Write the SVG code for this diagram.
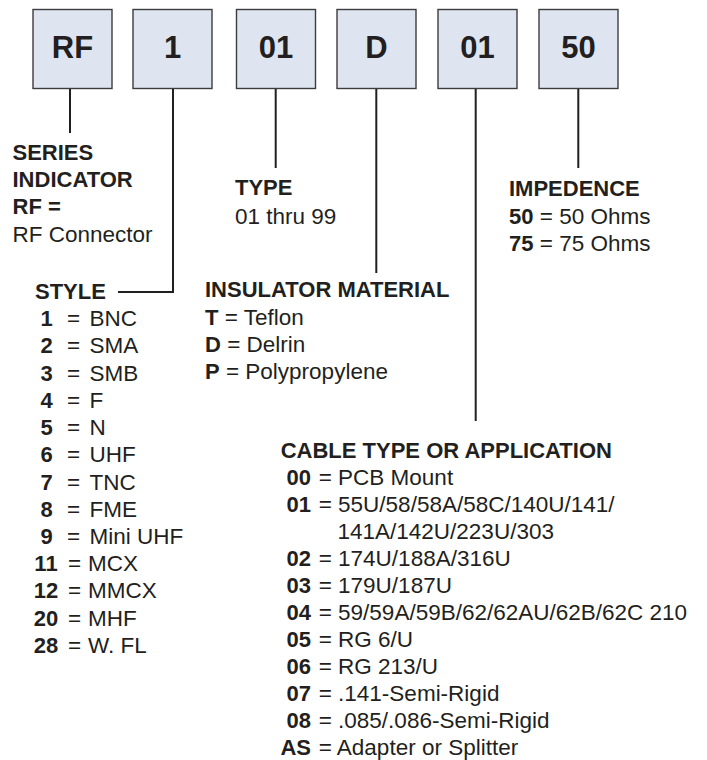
<svg xmlns="http://www.w3.org/2000/svg" width="707" height="760" viewBox="0 0 707 760">
<style>
text{font-family:"Liberation Sans",Arial,Helvetica,sans-serif;fill:#231f20}
.box{fill:#dee5f1;stroke:#3c3c3c;stroke-width:1.4}
.bt{font-size:31px;font-weight:bold;text-anchor:middle}
.b{font-size:22px;font-weight:bold}
.r{font-size:22.5px}
.c{font-size:22px;font-weight:bold;text-anchor:middle}
.e{font-size:22px;font-weight:bold;text-anchor:end}
.conn{stroke:#231f20;stroke-width:2;fill:none}
</style>
<rect width="707" height="760" fill="#fff"/>
<g id="box-rf"><rect class="box" x="33" y="9.5" width="79" height="79"/><text class="bt" x="72.5" y="57.5">RF</text></g>
<g id="box-1"><rect class="box" x="133" y="9.5" width="79" height="79"/><text class="bt" x="172.5" y="57.5">1</text></g>
<g id="box-01"><rect class="box" x="236.5" y="9.5" width="79" height="79"/><text class="bt" x="276" y="57.5">01</text></g>
<g id="box-d"><rect class="box" x="337" y="9.5" width="79" height="79"/><text class="bt" x="376.5" y="57.5">D</text></g>
<g id="box-01b"><rect class="box" x="438" y="9.5" width="79" height="79"/><text class="bt" x="477.5" y="57.5">01</text></g>
<g id="box-50"><rect class="box" x="539" y="9.5" width="79" height="79"/><text class="bt" x="578.5" y="57.5">50</text></g>
<g id="connectors">
<path class="conn" d="M70 89V133"/>
<path class="conn" d="M173 89V292H118"/>
<path class="conn" d="M275.7 89V168"/>
<path class="conn" d="M376.3 89V273"/>
<path class="conn" d="M475.7 89V421"/>
<path class="conn" d="M578.3 89V168"/>
</g>
<g id="series">
<text class="b" x="12.5" y="159.5">SERIES</text>
<text class="b" x="12.5" y="187">INDICATOR</text>
<text class="b" x="12.5" y="214">RF =</text>
<text class="r" x="12.5" y="241.5">RF Connector</text>
</g>
<g id="type">
<text class="b" x="235" y="195">TYPE</text>
<text class="r" x="235" y="224">01 thru 99</text>
</g>
<g id="impedence">
<text class="b" x="509" y="195.5">IMPEDENCE</text>
<text class="r" x="509" y="223.5"><tspan font-weight="bold" font-size="22">50</tspan> = 50 Ohms</text>
<text class="r" x="509" y="250.5"><tspan font-weight="bold" font-size="22">75</tspan> = 75 Ohms</text>
</g>
<g id="insulator">
<text class="b" x="205" y="297">INSULATOR MATERIAL</text>
<text class="r" x="205" y="324.5"><tspan font-weight="bold" font-size="22">T</tspan> = Teflon</text>
<text class="r" x="205" y="352"><tspan font-weight="bold" font-size="22">D</tspan> = Delrin</text>
<text class="r" x="205" y="379"><tspan font-weight="bold" font-size="22">P</tspan> = Polypropylene</text>
</g>
<g id="style">
<text class="b" x="35" y="299">STYLE</text>
<text class="c" x="46.5" y="326">1</text><text class="r" x="67" y="326">=</text><text class="r" x="89.5" y="326">BNC</text>
<text class="c" x="46.5" y="353">2</text><text class="r" x="67" y="353">=</text><text class="r" x="89.5" y="353">SMA</text>
<text class="c" x="46.5" y="380.5">3</text><text class="r" x="67" y="380.5">=</text><text class="r" x="89.5" y="380.5">SMB</text>
<text class="c" x="46.5" y="408">4</text><text class="r" x="67" y="408">=</text><text class="r" x="89.5" y="408">F</text>
<text class="c" x="46.5" y="435">5</text><text class="r" x="67" y="435">=</text><text class="r" x="89.5" y="435">N</text>
<text class="c" x="46.5" y="462">6</text><text class="r" x="67" y="462">=</text><text class="r" x="89.5" y="462">UHF</text>
<text class="c" x="46.5" y="489.5">7</text><text class="r" x="67" y="489.5">=</text><text class="r" x="89.5" y="489.5">TNC</text>
<text class="c" x="46.5" y="516.5">8</text><text class="r" x="67" y="516.5">=</text><text class="r" x="89.5" y="516.5">FME</text>
<text class="c" x="46.5" y="544">9</text><text class="r" x="67" y="544">=</text><text class="r" x="89.5" y="544">Mini UHF</text>
<text class="c" x="46" y="571">11</text><text class="r" x="68" y="571">=</text><text class="r" x="88" y="571">MCX</text>
<text class="c" x="46" y="598">12</text><text class="r" x="68" y="598">=</text><text class="r" x="88" y="598">MMCX</text>
<text class="c" x="46" y="625.5">20</text><text class="r" x="68" y="625.5">=</text><text class="r" x="88" y="625.5">MHF</text>
<text class="c" x="46" y="652.5">28</text><text class="r" x="68" y="652.5">=</text><text class="r" x="88" y="652.5">W. FL</text>
</g>
<g id="cable">
<text class="b" x="280.7" y="458">CABLE TYPE OR APPLICATION</text>
<text class="e" x="311" y="485">00</text><text class="r" x="318.7" y="485">= PCB Mount</text>
<text class="e" x="311" y="512">01</text><text class="r" x="318.7" y="512">= 55U/58/58A/58C/140U/141/</text>
<text class="r" x="337.5" y="539">141A/142U/223U/303</text>
<text class="e" x="311" y="566">02</text><text class="r" x="318.7" y="566">= 174U/188A/316U</text>
<text class="e" x="311" y="593">03</text><text class="r" x="318.7" y="593">= 179U/187U</text>
<text class="e" x="311" y="620">04</text><text class="r" x="318.7" y="620">= 59/59A/59B/62/62AU/62B/62C 210</text>
<text class="e" x="311" y="647">05</text><text class="r" x="318.7" y="647">= RG 6/U</text>
<text class="e" x="311" y="674">06</text><text class="r" x="318.7" y="674">= RG 213/U</text>
<text class="e" x="311" y="701">07</text><text class="r" x="318.7" y="701">= .141-Semi-Rigid</text>
<text class="e" x="311" y="728">08</text><text class="r" x="318.7" y="728">= .085/.086-Semi-Rigid</text>
<text class="e" x="311" y="755">AS</text><text class="r" x="318.7" y="755">= Adapter or Splitter</text>
</g>
</svg>
